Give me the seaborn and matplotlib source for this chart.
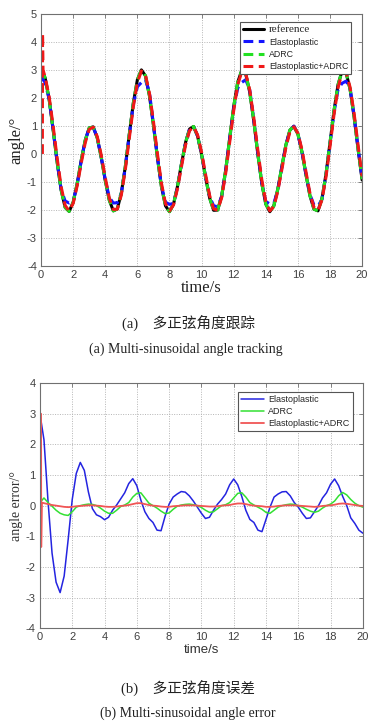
import numpy as np
import pandas as pd
import matplotlib
matplotlib.use("Agg")
import matplotlib.pyplot as plt
import seaborn as sns

# ---------------- data ----------------
times = np.linspace(0, 20, 81)

reference = [3.00, 2.72, 1.96, 0.87, -0.29, -1.29, -1.91, -2.05, -1.72, -1.05,
             -0.23, 0.49, 0.93, 0.96, 0.57, -0.13, -0.95, -1.65, -2.03, -1.96,
             -1.39, -0.44, 0.72, 1.83, 2.65, 3.00, 2.79, 2.08, 1.03, -0.14,
             -1.17, -1.85, -2.06, -1.79, -1.15, -0.34, 0.41, 0.89, 0.98, 0.64,
             -0.02, -0.84, -1.57, -2.01, -2.00, -1.50, -0.58, 0.56, 1.69, 2.56,
             2.98, 2.85, 2.20, 1.18, 0.01, -1.05, -1.79, -2.06, -1.85, -1.25,
             -0.45, 0.32, 0.85, 0.99, 0.71, 0.08, -0.73, -1.49, -1.97, -2.03,
             -1.59, -0.72, 0.40, 1.55, 2.47, 2.96, 2.90, 2.31, 1.33, 0.17, -0.93]

elasto = [2.75, 2.55, 1.96, 0.87, -0.29, -1.27, -1.68, -1.75, -1.68, -1.10,
          -0.25, 0.48, 0.93, 0.96, 0.57, -0.13, -0.93, -1.55, -1.75, -1.74,
          -1.40, -0.46, 0.70, 1.78, 2.40, 2.55, 2.65, 2.20, 1.05, -0.12,
          -1.15, -1.72, -1.80, -1.76, -1.18, -0.36, 0.40, 0.89, 0.98, 0.64,
          -0.02, -0.83, -1.52, -1.85, -1.88, -1.52, -0.60, 0.53, 1.62, 2.35,
          2.55, 2.65, 2.28, 1.22, 0.03, -1.03, -1.70, -1.78, -1.77, -1.28,
          -0.47, 0.30, 0.84, 0.99, 0.71, 0.08, -0.72, -1.45, -1.82, -1.86,
          -1.62, -0.74, 0.37, 1.48, 2.30, 2.52, 2.60, 2.35, 1.36, 0.19, -0.88]

adrc = [3.00, 2.72, 1.96, 0.87, -0.29, -1.29, -1.91, -2.05, -1.72, -1.05,
        -0.23, 0.49, 0.93, 0.96, 0.57, -0.13, -0.95, -1.65, -2.03, -1.96,
        -1.39, -0.44, 0.72, 1.83, 2.65, 3.00, 2.79, 2.08, 1.03, -0.14,
        -1.17, -1.85, -2.06, -1.79, -1.15, -0.34, 0.41, 0.89, 0.98, 0.64,
        -0.02, -0.84, -1.57, -2.01, -2.00, -1.50, -0.58, 0.56, 1.69, 2.56,
        2.98, 2.85, 2.20, 1.18, 0.01, -1.05, -1.79, -2.06, -1.85, -1.25,
        -0.45, 0.32, 0.85, 0.99, 0.71, 0.08, -0.73, -1.49, -1.97, -2.03,
        -1.59, -0.72, 0.40, 1.55, 2.47, 2.96, 2.90, 2.31, 1.33, 0.17, -0.90]

combo_head_t = [0.08, 0.09, 0.12]
combo_head_y = [0.0, 4.3, 3.0]
combo = [2.75, 2.05, 1.00, -0.15, -1.17, -1.84, -2.03, -1.76, -1.13,
         -0.33, 0.40, 0.88, 0.96, 0.62, -0.05, -0.85, -1.57, -1.98, -1.97,
         -1.46, -0.55, 0.58, 1.70, 2.55, 2.96, 2.82, 2.17, 1.16, 0.00,
         -1.05, -1.77, -2.03, -1.82, -1.23, -0.44, 0.32, 0.83, 0.97, 0.68,
         0.06, -0.74, -1.48, -1.96, -2.00, -1.56, -0.69, 0.42, 1.55, 2.46,
         2.93, 2.87, 2.28, 1.30, 0.15, -0.92, -1.70, -2.03, -1.88, -1.32,
         -0.55, 0.23, 0.79, 0.97, 0.74, 0.16, -0.63, -1.40, -1.91, -2.02,
         -1.64, -0.82, 0.27, 1.41, 2.36, 2.90, 2.91, 2.38, 1.45, 0.31, -0.80]

err_elasto = [3.00, 2.15, 0.15, -1.55, -2.50, -2.84, -2.30, -1.10, 0.20, 1.05,
              1.41, 1.15, 0.45, -0.10, -0.30, -0.36, -0.46, -0.38, -0.15, 0.02,
              0.22, 0.42, 0.72, 0.88, 0.65, 0.18, -0.20, -0.42, -0.55, -0.80,
              -0.82, -0.35, 0.05, 0.28, 0.38, 0.46, 0.44, 0.32, 0.15, -0.05,
              -0.25, -0.42, -0.38, -0.15, 0.05, 0.20, 0.38, 0.68, 0.87, 0.68,
              0.30, -0.15, -0.45, -0.55, -0.80, -0.85, -0.45, -0.05, 0.28, 0.38,
              0.45, 0.46, 0.32, 0.10, -0.05, -0.25, -0.42, -0.40, -0.20, 0.00,
              0.25, 0.42, 0.70, 0.87, 0.65, 0.30, 0.00, -0.40, -0.58, -0.80, -0.90]

err_adrc = [0.10, 0.25, 0.10, -0.02, -0.15, -0.25, -0.30, -0.32, -0.20, -0.05,
            0.00, 0.03, 0.05, 0.04, 0.00, -0.08, -0.18, -0.25, -0.25, -0.15,
            -0.03, 0.02, 0.10, 0.28, 0.40, 0.42, 0.25, 0.08, 0.00, -0.08,
            -0.18, -0.26, -0.24, -0.12, -0.02, 0.02, 0.04, 0.05, 0.03, 0.00,
            -0.06, -0.15, -0.22, -0.20, -0.10, 0.00, 0.03, 0.10, 0.25, 0.40,
            0.42, 0.28, 0.10, 0.02, -0.05, -0.12, -0.22, -0.25, -0.15, -0.05,
            0.00, 0.03, 0.05, 0.04, 0.00, -0.05, -0.12, -0.18, -0.22, -0.18,
            -0.08, 0.00, 0.05, 0.15, 0.32, 0.43, 0.35, 0.20, 0.08, 0.00, -0.05]

err_combo_head_t = [0.07, 0.08, 0.12]
err_combo_head_y = [3.0, -1.35, 0.10]
err_combo = [0.08, 0.05, 0.02, 0.00, -0.02, -0.04, -0.05, -0.04, -0.02, -0.01,
             0.00, 0.01, 0.01, 0.00, -0.01, -0.03, -0.04, -0.04, -0.03, -0.01,
             0.00, 0.02, 0.05, 0.08, 0.08, 0.05, 0.02, 0.00, -0.01, -0.03,
             -0.04, -0.04, -0.02, -0.01, 0.00, 0.01, 0.01, 0.01, 0.00, -0.01,
             -0.02, -0.03, -0.03, -0.02, 0.00, 0.01, 0.02, 0.05, 0.07, 0.07,
             0.05, 0.02, 0.00, -0.01, -0.02, -0.04, -0.04, -0.03, -0.01, 0.00,
             0.01, 0.01, 0.01, 0.00, -0.01, -0.02, -0.03, -0.04, -0.03, -0.01,
             0.00, 0.01, 0.03, 0.06, 0.07, 0.06, 0.04, 0.02, 0.00, -0.01]

series_names = ["Elastoplastic", "ADRC", "Elastoplastic+ADRC"]
x_ticks = list(range(0, 21, 2))
y_ticks_top = list(range(-4, 6))
y_ticks_bot = list(range(-4, 5))

# ---------------- style ----------------
sns.set_style("white")
plt.rcParams['font.family'] = ['Liberation Sans', 'DejaVu Sans']
plt.rcParams['axes.unicode_minus'] = False
SERIF = ['Liberation Serif', 'Noto Sans CJK SC', 'DejaVu Serif']
CAPTION = ['Liberation Serif', 'Noto Sans CJK SC', 'DejaVu Sans']

fig = plt.figure(figsize=(3.84, 7.27), dpi=100)
ax1 = fig.add_axes([0.107, 0.634, 0.836, 0.347])
ax2 = fig.add_axes([0.104, 0.136, 0.841, 0.337])

red_t = list(combo_head_t) + list(times[1:])
red_y = list(combo_head_y) + list(combo)
err_red_t = list(err_combo_head_t) + list(times[1:])
err_red_y = list(err_combo_head_y) + list(err_combo)

kw = dict(estimator=None, sort=False)
# top panel
sns.lineplot(x=times, y=reference, ax=ax1, color='black', lw=2.2, label='reference', **kw)
sns.lineplot(x=times, y=elasto, ax=ax1, color='#1414ff', lw=2.2, label=series_names[0], **kw)
sns.lineplot(x=times, y=adrc, ax=ax1, color='#22e022', lw=2.2, label=series_names[1], **kw)
sns.lineplot(x=red_t, y=red_y, ax=ax1, color='#f01818', lw=2.2, label=series_names[2], **kw)
for ln in ax1.lines[1:]:
    ln.set_dashes((3.2, 1.8))

# bottom panel
sns.lineplot(x=times, y=err_elasto, ax=ax2, color='#2424e0', lw=1.1, label=series_names[0], **kw)
sns.lineplot(x=times, y=err_adrc, ax=ax2, color='#33e033', lw=1.1, label=series_names[1], **kw)
sns.lineplot(x=err_red_t, y=err_red_y, ax=ax2, color='#f05555', lw=1.3, label=series_names[2], **kw)

for ax, yt in ((ax1, y_ticks_top), (ax2, y_ticks_bot)):
    ax.set_xlim(0, 20)
    ax.set_ylim(yt[0], yt[-1])
    ax.set_xticks(x_ticks)
    ax.set_yticks(yt)
    ax.grid(True, linestyle=(0, (1, 1.5)), color='#b5b5b5', lw=0.7)
    for sp in ax.spines.values():
        sp.set_color('#707070')
        sp.set_linewidth(0.8)
        sp.set_visible(True)
    ax.tick_params(direction='in', length=3, width=0.6, color='#707070',
                   labelsize=8, labelcolor='#404040', top=True, right=True, pad=3)

ax1.set_xlabel('time/s', family=SERIF, fontsize=12, color='#222222', labelpad=0)
ax1.set_ylabel('angle/°', family=SERIF, fontsize=12, color='#222222', labelpad=2)
ax2.set_xlabel('time/s', fontsize=9.5, color='#333333', labelpad=1)
ax2.set_ylabel('angle error/°', family=SERIF, fontsize=10, color='#333333', labelpad=2)

leg1 = ax1.legend(loc='upper right', bbox_to_anchor=(0.966, 0.966), borderaxespad=0,
                  fancybox=False, framealpha=1, edgecolor='#555555', fontsize=6.3,
                  handlelength=2.4, handletextpad=0.5, labelspacing=0.35,
                  borderpad=0.35)
leg1.get_frame().set_linewidth(0.8)
leg1.get_texts()[0].set_family(SERIF)
leg1.get_texts()[0].set_fontsize(8)

leg2 = ax2.legend(loc='upper right', bbox_to_anchor=(0.969, 0.963), borderaxespad=0,
                  fancybox=False, framealpha=1, edgecolor='#555555', fontsize=6.5,
                  handlelength=2.5, handletextpad=0.5, labelspacing=0.3,
                  borderpad=0.35)
leg2.get_frame().set_linewidth(0.8)

fig.text(0.49, 0.556, '(a)    多正弦角度跟踪', family=CAPTION, fontsize=10.5,
         ha='center', va='center', color='#222222')
fig.text(0.485, 0.519, '(a) Multi-sinusoidal angle tracking', family=SERIF,
         fontsize=10, ha='center', va='center', color='#222222')
fig.text(0.49, 0.054, '(b)    多正弦角度误差', family=CAPTION, fontsize=10.5,
         ha='center', va='center', color='#222222')
fig.text(0.49, 0.019, '(b) Multi-sinusoidal angle error', family=SERIF,
         fontsize=10, ha='center', va='center', color='#222222')

fig.savefig('out.png', dpi=100)
